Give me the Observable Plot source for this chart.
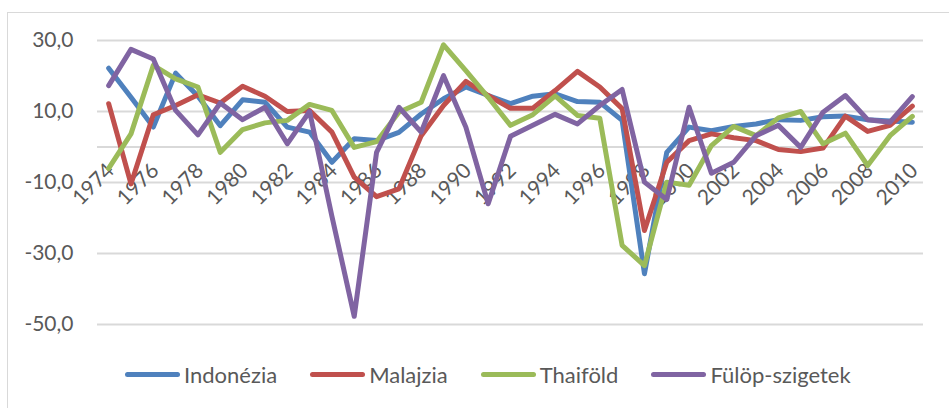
<!DOCTYPE html>
<html>
<head>
<meta charset="utf-8">
<script src="https://cdn.jsdelivr.net/npm/d3@7"></script>
<script src="https://cdn.jsdelivr.net/npm/@observablehq/plot@0.6"></script>
<style>
  html, body { margin: 0; padding: 0; background: #fff; }
  #wrap { position: relative; width: 949px; height: 408px; overflow: hidden; font-family: Lato, "Open Sans", sans-serif; }
  #frame { position: absolute; left: 7px; top: 12px; width: 960px; height: 420px; border: 1px solid #d9d9d9; box-sizing: border-box; }
  #chart { position: absolute; left: 0; top: 0; }
  #legend { position: absolute; left: 125px; top: 361px; display: flex; align-items: center; font-size: 22px; color: #595959; }
  .item { display: flex; align-items: center; margin-right: 33px; }
  .sw { width: 55px; height: 5px; border-radius: 3px; margin-right: 4px; }
</style>
</head>
<body>
<div id="wrap">
  <div id="frame"></div>
  <div id="chart"></div>
  <div id="legend"></div>
</div>
<script>
const years = d3.range(1974, 2011);
const seriesNames = ["Indonézia", "Malajzia", "Thaiföld", "Fülöp-szigetek"];
const seriesColors = ["#4F81BD", "#C0504D", "#9BBB59", "#8064A2"];

const indonezia = [22.2, 14.0, 5.6, 20.8, 14.3, 6.0, 13.3, 12.6, 5.6, 4.2, -4.3, 2.3, 1.8, 4.1, 9.3, 13.6, 16.9, 14.5, 12.2, 14.3, 15.0, 12.8, 12.6, 7.5, -35.7, -1.5, 5.6, 4.6, 5.8, 6.5, 7.7, 7.5, 8.5, 8.7, 7.7, 7.3, 7.0];
const malajzia = [12.2, -10.4, 9.1, 11.7, 14.7, 12.4, 17.1, 14.3, 10.0, 10.3, 4.2, -8.5, -14.0, -11.8, 3.2, 11.7, 18.5, 14.5, 10.9, 10.9, 15.9, 21.3, 16.9, 10.8, -23.5, -4.3, 1.8, 3.7, 2.6, 1.8, -0.7, -1.3, -0.3, 8.7, 4.4, 6.1, 11.5];
const thaifold = [-6.0, 3.7, 23.0, 19.2, 16.9, -1.5, 4.9, 6.8, 7.5, 12.0, 10.3, -0.1, 1.5, 9.8, 12.6, 28.8, 21.5, 14.0, 6.1, 9.1, 14.4, 8.9, 8.1, -27.7, -33.4, -9.9, -10.8, 0.4, 5.8, 3.2, 8.2, 10.0, 0.9, 3.9, -5.2, 3.2, 8.6];
const fulop = [17.3, 27.5, 24.8, 10.3, 3.4, 12.4, 7.7, 11.2, 0.9, 10.0, -19.5, -47.7, -1.5, 11.2, 4.2, 20.1, 5.6, -16.0, 3.0, 6.1, 9.2, 6.5, 11.7, 16.2, -9.9, -14.8, 11.2, -7.4, -4.3, 3.2, 6.1, -0.1, 9.8, 14.5, 7.7, 7.0, 14.2];

const yTicks = [-50, -30, -10, 10, 30];
const xTicks = d3.range(1974, 2011, 2);

const allSeries = [indonezia, malajzia, thaifold, fulop];
const table = allSeries.map((vals, s) => years.map((yr, i) => ({year: yr, value: vals[i], series: seriesNames[s]})));

const fmt = v => v.toFixed(1).replace(".", ",");

const chart = Plot.plot({
  width: 949,
  height: 350,
  marginLeft: 97,
  marginRight: 26,
  marginTop: 40,
  marginBottom: 26,
  style: {fontFamily: "Lato, 'Open Sans', sans-serif", background: "transparent"},
  x: {domain: [1973.5, 2010.5], axis: null},
  y: {domain: [-50, 30], axis: null},
  marks: [
    Plot.ruleY(yTicks, {stroke: "#d9d9d9", strokeWidth: 2}),
    Plot.ruleY([0], {stroke: "#d9d9d9", strokeWidth: 2}),
    Plot.text(yTicks, {x: 1973.5, y: d => d, text: d => fmt(d), textAnchor: "end", dx: -24, fontSize: 21, fill: "#595959"}),
    Plot.text(xTicks, {x: d => d, y: 0, text: d => String(d), textAnchor: "end", rotate: -45, dy: 20, dx: 2, fontSize: 21, fill: "#595959"}),
    ...table.map((rows, s) => Plot.line(rows, {x: "year", y: "value", stroke: seriesColors[s], strokeWidth: 5, strokeLinejoin: "round", strokeLinecap: "round"}))
  ]
});
document.getElementById("chart").appendChild(chart);

const legend = document.getElementById("legend");
seriesNames.forEach((name, i) => {
  const item = document.createElement("div");
  item.className = "item";
  const sw = document.createElement("div");
  sw.className = "sw";
  sw.style.background = seriesColors[i];
  const label = document.createElement("span");
  label.textContent = name;
  item.appendChild(sw);
  item.appendChild(label);
  legend.appendChild(item);
});
</script>
</body>
</html>
